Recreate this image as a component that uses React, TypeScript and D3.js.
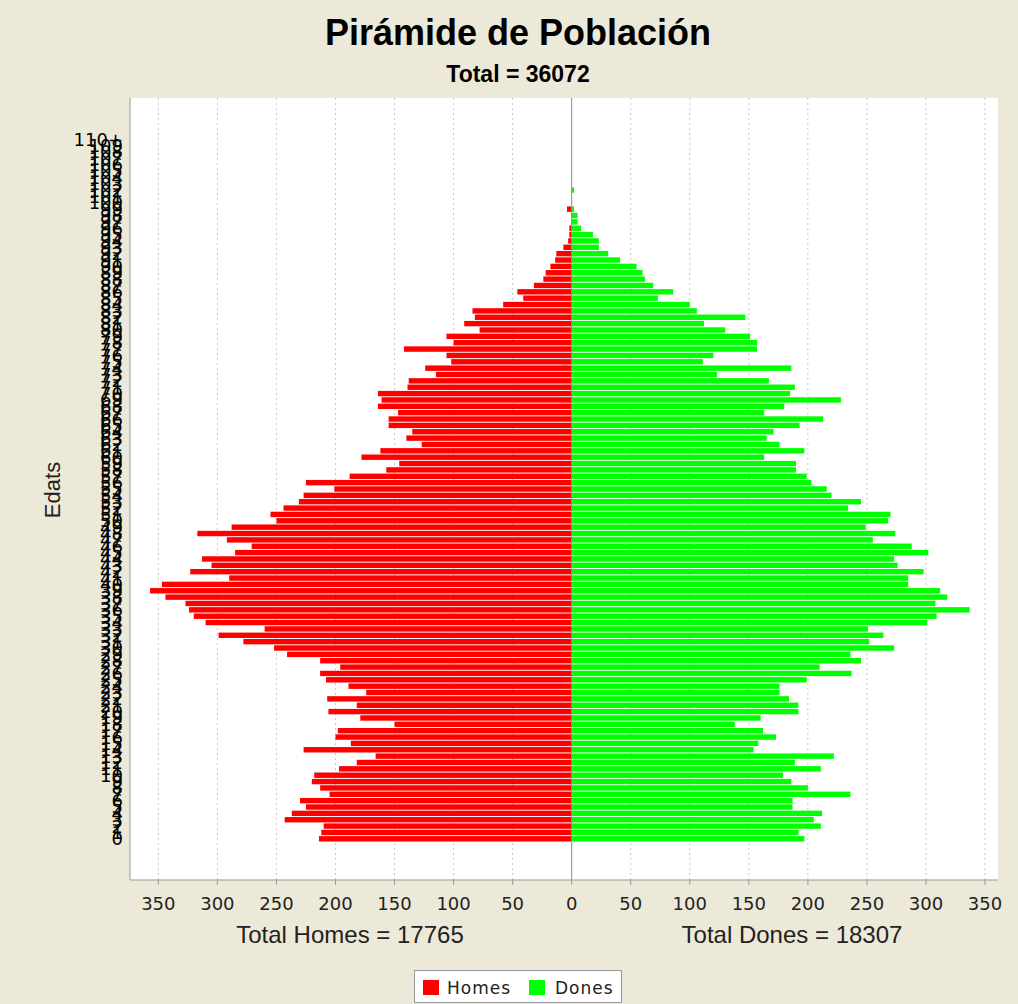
import * as d3 from "d3";

// age groups 0..109 plus the open group
const ages: string[] = d3.range(0, 110).map(String).concat(["110+"]);

// men per age (index = age)
const homes = [
  214, 212, 210, 243, 237, 225, 230, 205, 213, 220,
  218, 197, 182, 166, 227, 187, 200, 198, 150, 179,
  206, 182, 207, 174, 189, 208, 213, 196, 213, 241,
  252, 278, 299, 260, 310, 320, 324, 327, 344, 357,
  347, 290, 323, 305, 313, 285, 271, 292, 317, 288,
  250, 255, 244, 231, 227, 201, 225, 188, 157, 146,
  178, 162, 127, 140, 135, 155, 155, 147, 164, 161,
  164, 139, 138, 115, 124, 102, 106, 142, 100, 106,
  78, 91, 82, 84, 58, 41, 46, 32, 24, 22,
  18, 14, 13, 7, 3, 2, 2, 0, 0, 4,
  0, 0, 0, 0, 0, 0, 0, 0, 0, 0, 0,
];

// women per age
const dones = [
  197, 192, 211, 205, 212, 187, 187, 236, 200, 186,
  179, 211, 189, 222, 154, 158, 173, 162, 138, 160,
  192, 192, 184, 176, 176, 199, 237, 210, 245, 236,
  273, 252, 264, 251, 301, 309, 337, 308, 318, 312,
  285, 285, 298, 276, 273, 302, 288, 255, 274, 249,
  268, 270, 234, 245, 220, 216, 203, 199, 190, 190,
  163, 197, 176, 165, 171, 193, 213, 163, 180, 228,
  185, 189, 167, 123, 186, 111, 120, 157, 157, 151,
  130, 112, 147, 106, 100, 73, 86, 69, 62, 60,
  55, 41, 31, 23, 23, 18, 8, 5, 5, 2,
  0, 0, 2, 0, 0, 0, 0, 0, 0, 0, 0,
];

const tickValues = [-350, -300, -250, -200, -150, -100, -50, 0, 50, 100, 150, 200, 250, 300, 350];

const W = 1018;
const H = 1004;
const plot = { left: 130, right: 998, top: 98, bottom: 880 };

export default function App() {
  const x = d3.scaleLinear().domain([-374, 361]).range([plot.left, plot.right]);
  const y = d3
    .scaleBand()
    .domain(ages)
    .range([842, 136])
    .paddingInner(0.15)
    .paddingOuter(0.075);
  const bw = y.bandwidth();

  const sans = "'Liberation Sans', Arial, sans-serif";
  const dv = "'DejaVu Sans', sans-serif";

  return (
    <svg
      width={W}
      height={H}
      style={{ position: "absolute", left: 0, top: 0 }}
    >
      <rect width={W} height={H} fill="#ECE9D8" />

      <text x={518} y={45} textAnchor="middle" fontFamily={sans} fontWeight="bold" fontSize={36}>
        Pirámide de Población
      </text>
      <text x={518} y={82} textAnchor="middle" fontFamily={sans} fontWeight="bold" fontSize={23}>
        Total = 36072
      </text>

      <rect
        x={plot.left}
        y={plot.top}
        width={plot.right - plot.left}
        height={plot.bottom - plot.top}
        fill="#fff"
      />

      {tickValues
        .filter((t) => t !== 0)
        .map((t) => (
          <line
            key={"g" + t}
            x1={x(t)}
            x2={x(t)}
            y1={plot.top}
            y2={plot.bottom}
            stroke="#c8c8c8"
            strokeDasharray="2,3"
          />
        ))}

      {ages.map((a, i) => (
        <rect key={"h" + a} x={x(-homes[i])} y={y(a)} width={x(0) - x(-homes[i])} height={bw} fill="#ff0000" />
      ))}
      {ages.map((a, i) => (
        <rect key={"d" + a} x={x(0)} y={y(a)} width={x(dones[i]) - x(0)} height={bw} fill="#00ff00" />
      ))}

      <line x1={x(0)} x2={x(0)} y1={plot.top} y2={plot.bottom} stroke="#8a8a8a" />

      <line x1={plot.left} x2={plot.left} y1={plot.top} y2={plot.bottom} stroke="#999" />
      <line x1={plot.left} x2={plot.right} y1={plot.bottom} y2={plot.bottom} stroke="#999" />

      {tickValues.map((t) => (
        <g key={"t" + t}>
          <line x1={x(t)} x2={x(t)} y1={plot.bottom} y2={plot.bottom + 5} stroke="#999" />
          <text x={x(t)} y={910} textAnchor="middle" fontFamily={dv} fontSize={18} fill="#222">
            {Math.abs(t)}
          </text>
        </g>
      ))}

      {ages.map((a) => (
        <text
          key={"l" + a}
          x={123}
          y={(y(a) ?? 0) + bw / 2}
          dy="0.36em"
          textAnchor="end"
          fontFamily={dv}
          fontSize={18}
          fill="#000"
        >
          {a}
        </text>
      ))}

      <text
        transform="translate(60,490) rotate(-90)"
        textAnchor="middle"
        fontFamily={sans}
        fontSize={22}
        fill="#222"
      >
        Edats
      </text>

      <text x={350} y={943} textAnchor="middle" fontFamily={sans} fontSize={24} fill="#222">
        Total Homes = 17765
      </text>
      <text x={792} y={943} textAnchor="middle" fontFamily={sans} fontSize={24} fill="#222">
        Total Dones = 18307
      </text>

      <rect x={414.5} y={970.5} width={207} height={32} fill="#fff" stroke="#999" />
      <rect x={423} y={980} width={16} height={15} fill="#ff0000" />
      <text x={447} y={994} fontFamily={dv} fontSize={17} letterSpacing={1} fill="#222">
        Homes
      </text>
      <rect x={529} y={980} width={16} height={15} fill="#00ff00" />
      <text x={555} y={994} fontFamily={dv} fontSize={17} letterSpacing={1} fill="#222">
        Dones
      </text>
    </svg>
  );
}
